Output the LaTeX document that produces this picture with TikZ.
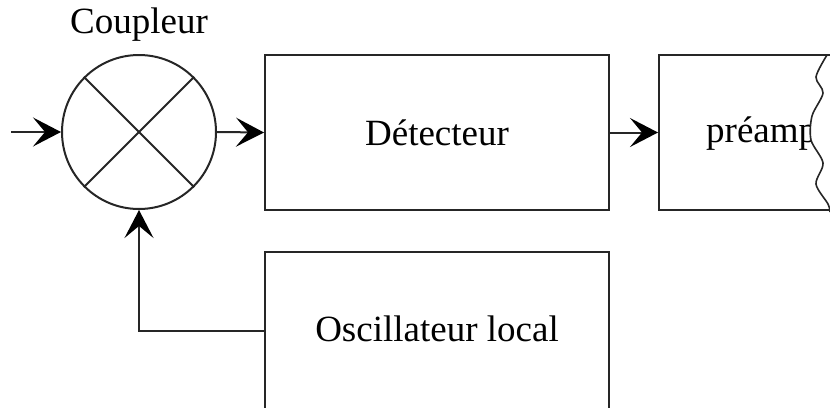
\documentclass[tikz,border=0pt]{standalone}
\usepackage{fontspec}
\setmainfont{Liberation Serif}
\usetikzlibrary{arrows.meta}
\begin{document}
\begin{tikzpicture}[x=1pt,y=-1pt,
  every node/.style={font=\fontsize{37}{44}\selectfont, text=black},
  line/.style={draw=black!85, line width=2pt},
  arr/.style={line, -{Stealth[length=28pt,width=29pt,inset=12pt,fill=black,color=black]}},
  blockbox/.style={line, minimum width=344pt, inner sep=0pt}]
\useasboundingbox (0,0) rectangle (830,407);
\clip (0,0) rectangle (830,407);
% coupler
\node[line, circle, minimum size=154pt, inner sep=0pt] (c) at (139,132) {};
\draw[line] (c.45) -- (c.225);
\draw[line] (c.135) -- (c.-45);
\node (lbl) at (139,25) {Coupleur};
% detector
\node[blockbox, minimum height=155pt] (det) at (437,132.5) {Détecteur};
% preamp
\node[anchor=west, inner sep=0pt] (pret) at (706,134) {préamp};
\fill[white] plot[smooth] coordinates {(827,55) (816,77) (823,93) (812,116) (811,140) (823,163) (816,184) (828,204) (830,212)} -- (850,212) -- (850,55) -- cycle;
\node[line, anchor=west, minimum width=200pt, minimum height=155pt, inner sep=0pt] (pre) at (658,132.5) {};
\draw[line, line width=1.6pt] plot[smooth] coordinates {(827,55) (816,77) (823,93) (812,116) (811,140) (823,163) (816,184) (828,204) (830,212)};
% oscillator
\node[blockbox, anchor=north, minimum height=158pt] (osc) at (437,251) {};
\node (osct) at (437,329) {Oscillateur local};
% connectors
\coordinate (in) at (11,132);
\draw[arr] (in) -- (c.west);
\draw[arr] (c.east) -- (det.west);
\draw[arr] (det.east) -- (pre.west);
\draw[arr] (osc.west) -| (c.south);
\end{tikzpicture}
\end{document}
